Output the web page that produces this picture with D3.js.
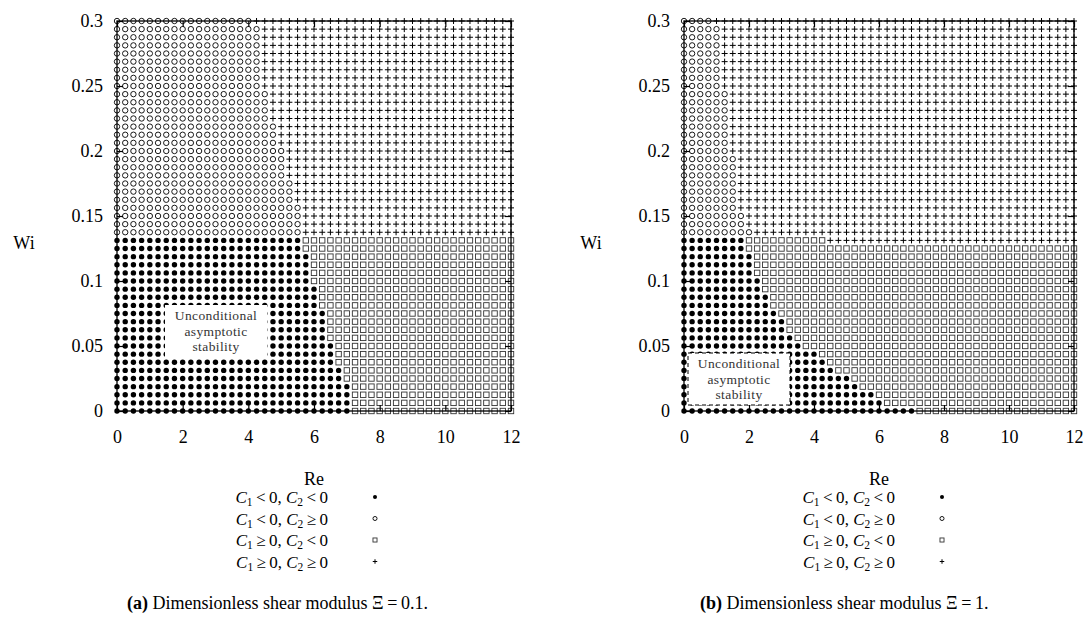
<!DOCTYPE html>
<html>
<head>
<meta charset="utf-8">
<script src="https://cdn.jsdelivr.net/npm/d3@7"></script>
<style>
body{margin:0;background:#fff}
text{font-family:"Liberation Serif",serif}
</style>
</head>
<body>
<svg width="1086" height="628"></svg>
<script>
// grid on which the coefficients were evaluated
var reGrid = [0,0.25,0.5,0.75,1,1.25,1.5,1.75,2,2.25,2.5,2.75,3,3.25,3.5,3.75,4,4.25,4.5,4.75,5,5.25,5.5,5.75,6,
	6.25,6.5,6.75,7,7.25,7.5,7.75,8,8.25,8.5,8.75,9,9.25,9.5,9.75,10,10.25,10.5,10.75,11,11.25,11.5,11.75,12];
var wiGrid = [0,0.00625,0.0125,0.01875,0.025,0.03125,0.0375,0.04375,0.05,0.05625,0.0625,0.06875,0.075,0.08125,
	0.0875,0.09375,0.1,0.10625,0.1125,0.11875,0.125,0.13125,0.1375,0.14375,0.15,0.15625,0.1625,0.16875,0.175,
	0.18125,0.1875,0.19375,0.2,0.20625,0.2125,0.21875,0.225,0.23125,0.2375,0.24375,0.25,0.25625,0.2625,0.26875,
	0.275,0.28125,0.2875,0.29375,0.3];

// for each Wi row: largest Re where C1 < 0, and largest Re where C2 < 0 (-1 = none)
var c1EdgeA = [7,7,7,7,6.75,6.75,6.5,6.5,6.5,6.25,6.25,6.25,6.25,6,6,6,5.75,5.75,5.75,5.75,5.5,5.5,5.5,5.5,5.5,5.5,
	5.25,5.25,5.25,5,5,5,5,4.75,4.75,4.75,4.5,4.5,4.5,4.5,4.25,4.25,4.25,4.25,4.25,4.25,4.25,4.25,4];
var c2EdgeA = [12,12,12,12,12,12,12,12,12,12,12,12,12,12,12,12,12,12,12,12,12,12,
	-1,-1,-1,-1,-1,-1,-1,-1,-1,-1,-1,-1,-1,-1,-1,-1,-1,-1,-1,-1,-1,-1,-1,-1,-1,-1,-1];
var c1EdgeB = [7,6,5.75,5.25,5,4.5,4.25,4,3.5,3.25,3,3,2.75,2.5,2.5,2.25,2.25,2,2,2,1.75,1.75,2,1.75,1.75,
	1.5,1.5,1.5,1.5,1.5,1.5,1.5,1.25,1.25,1.25,1.25,1.25,1.25,1.25,1.25,1,1,1,1,1,1,1,1,0.75];
var c2EdgeB = [12,12,12,12,12,12,12,12,12,12,12,12,12,12,12,12,12,12,12,12,12,4.25,
	-1,-1,-1,-1,-1,-1,-1,-1,-1,-1,-1,-1,-1,-1,-1,-1,-1,-1,-1,-1,-1,-1,-1,-1,-1,-1,-1];

var reTicks = [0,2,4,6,8,10,12];
var wiTicks = [0,0.05,0.1,0.15,0.2,0.25,0.3];
var legendOps = [['<','<'],['<','\u2265'],['\u2265','<'],['\u2265','\u2265']];
var legendTypes = ['dot','circle','square','plus'];
var captions = [['(a)','0.1.'],['(b)','1.']];

var svg = d3.select('svg');

var panels = [
	{left:117, right:511, c1:c1EdgeA, c2:c2EdgeA, box:[165,305,102,52], dashed:false, legX:328, cap:captions[0], capX:127},
	{left:684, right:1074, c1:c1EdgeB, c2:c2EdgeB, box:[688,353,102,52], dashed:true, legX:895, cap:captions[1], capX:700}
];
var plotTop = 21, plotBottom = 411;

function drawMarker(g, type, x, y, s){
	if(type==='dot'){
		g.append('circle').attr('cx',x).attr('cy',y).attr('r',2.7*s).attr('fill','#000');
	} else if(type==='circle'){
		g.append('circle').attr('cx',x).attr('cy',y).attr('r',2.7*s).attr('fill','none')
			.attr('stroke','#000').attr('stroke-width',0.9);
	} else if(type==='square'){
		var h = 2.7*s;
		g.append('rect').attr('x',x-h).attr('y',y-h).attr('width',2*h).attr('height',2*h)
			.attr('fill','none').attr('stroke','#333').attr('stroke-width',0.9);
	} else {
		var p = 3*s;
		g.append('path').attr('d','M'+(x-p)+','+y+'H'+(x+p)+'M'+x+','+(y-p)+'V'+(y+p))
			.attr('stroke','#000').attr('stroke-width',1);
	}
}

function cTerm(t, idx, op){
	t.append('tspan').attr('font-style','italic').text('C');
	t.append('tspan').attr('font-size',11.5).attr('dy',3).text(idx);
	t.append('tspan').attr('dy',-3).text('\u2009' + op + '\u2009' + '0');
}

panels.forEach(function(p){
	var x = d3.scaleLinear().domain([0,12]).range([p.left,p.right]);
	var y = d3.scaleLinear().domain([0,0.3]).range([plotBottom,plotTop]);
	var g = svg.append('g');

	// markers
	wiGrid.forEach(function(wi,j){
		reGrid.forEach(function(re){
			var c1neg = re <= p.c1[j] + 1e-9;
			var c2neg = re <= p.c2[j] + 1e-9;
			var type = c1neg ? (c2neg ? 'dot' : 'circle') : (c2neg ? 'square' : 'plus');
			drawMarker(g, type, x(re), y(wi), 1);
		});
	});

	// frame + inward ticks
	g.append('rect').attr('x',p.left).attr('y',plotTop).attr('width',p.right-p.left).attr('height',plotBottom-plotTop)
		.attr('fill','none').attr('stroke','#000').attr('stroke-width',1.3);

	var fmt = function(d){ return String(+d.toFixed(2)); };
	var ax = [
		g.append('g').attr('transform','translate(0,'+plotBottom+')').call(d3.axisBottom(x).tickValues(reTicks).tickSize(-6).tickPadding(19).tickFormat(fmt)),
		g.append('g').attr('transform','translate(0,'+plotTop+')').call(d3.axisTop(x).tickValues(reTicks).tickSize(-6).tickFormat('')),
		g.append('g').attr('transform','translate('+p.left+',0)').call(d3.axisLeft(y).tickValues(wiTicks).tickSize(-6).tickPadding(14).tickFormat(fmt)),
		g.append('g').attr('transform','translate('+p.right+',0)').call(d3.axisRight(y).tickValues(wiTicks).tickSize(-6).tickFormat(''))
	];
	ax.forEach(function(a){
		a.select('.domain').remove();
		a.selectAll('line').attr('stroke','#000').attr('stroke-width',1.2);
		a.selectAll('text').attr('font-family','Liberation Serif, serif').attr('font-size',18).attr('fill','#000');
	});

	// annotation box
	var b = p.box;
	g.append('rect').attr('x',b[0]).attr('y',b[1]).attr('width',b[2]).attr('height',b[3])
		.attr('fill','#fff').attr('stroke',p.dashed ? '#000' : 'none').attr('stroke-width',1)
		.attr('stroke-dasharray','4,3');
	['Unconditional','asymptotic','stability'].forEach(function(s,i){
		g.append('text').attr('x',b[0]+b[2]/2).attr('y',b[1]+15+i*15.5).attr('text-anchor','middle')
			.attr('font-size',13.5).attr('letter-spacing',0.4).attr('fill','#333').text(s);
	});

	// axis titles
	g.append('text').attr('x',(p.left+p.right)/2).attr('y',485).attr('text-anchor','middle').attr('font-size',18).text('Re');
	g.append('text').attr('x',p.left-93).attr('y',249).attr('text-anchor','middle').attr('font-size',18).text('Wi');

	// legend
	legendOps.forEach(function(ops,i){
		var yy = 503 + i*21.5;
		var t = g.append('text').attr('x',p.legX).attr('y',yy).attr('text-anchor','end').attr('font-size',17);
		cTerm(t,'1',ops[0]);
		t.append('tspan').text(', ');
		cTerm(t,'2',ops[1]);
		drawMarker(g, legendTypes[i], p.legX+47, yy-6, 0.75);
	});

	// caption
	var c = g.append('text').attr('x',p.capX).attr('y',609).attr('font-size',18)
		.attr('font-family','Liberation Sans, Arial, sans-serif');
	c.append('tspan').attr('font-weight','bold').text(p.cap[0]);
	c.append('tspan').text(' Dimensionless shear modulus ');
	c.append('tspan').attr('font-family','Liberation Serif, serif').text('\u039E\u2009=\u2009' + p.cap[1]);
});
</script>
</body>
</html>
